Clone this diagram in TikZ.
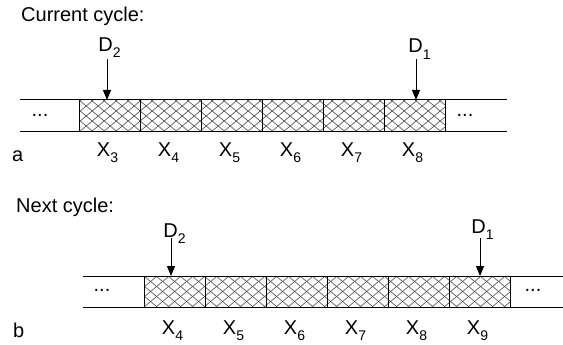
\documentclass[tikz,border=0pt]{standalone}
\usepackage{fontspec}
\setmainfont{Liberation Sans}
\usetikzlibrary{arrows.meta}
\newcommand{\lbl}[2]{#1\raisebox{-6pt}{\fontsize{14}{14}\selectfont #2}}
\begin{document}
\begin{tikzpicture}[x=1pt,y=-1pt,
  cell/.style={draw=none,minimum width=61pt,minimum height=#1,inner sep=0pt,outer sep=0pt},
  cell/.default=32pt,
  txt/.style={font=\fontsize{20}{24}\selectfont,inner sep=0pt},
  head/.style={font=\fontsize{20}{24}\selectfont,inner sep=0pt,anchor=base west},
  arr/.style={-{Triangle[length=10pt,width=8pt]},line width=0.9pt},
  rail/.style={line width=1pt},
  hatchline/.style={line width=0.6pt,black!70}]
\useasboundingbox (0,0) rectangle (563,345);

% ---------- row a ----------
\node[head] (ha) at (21,22) {Current cycle:};
\begin{scope}
  \clip (79,100) rectangle (445,132);
  \foreach \i in {-5,...,32} {
    \draw[hatchline] (79+12*\i,132) -- ++(38.4,-32);
    \draw[hatchline] (79+12*\i,100) -- ++(38.4,32);
  }
\end{scope}
\foreach \k/\n in {0/3,1/4,2/5,3/6,4/7,5/8} {
  \node[cell] (a\n) at (109.5+61*\k,116) {};
  \draw[rail] (a\n.north west) -- (a\n.south west);
  \node[txt,anchor=base] at (109.5+61*\k-2,157) {\lbl{X}{\n}};
}
\draw[rail] (a8.north east) -- (a8.south east);
\draw[rail] (20,100) -- (507,100);
\draw[rail] (20,132) -- (507,132);
\node[txt] at (40,115) {...};
\node[txt] at (465,115) {...};
\node[txt,anchor=base west] (la) at (12,161) {a};
\node[txt,anchor=base] (d2a) at (109.5,52) {\lbl{D}{2}};
\node[txt,anchor=base] (d1a) at (419.5,53) {\lbl{D}{1}};
\draw[arr] ([xshift=-2.5pt,yshift=41pt]a3.north) -- ([xshift=-2.5pt]a3.north);
\draw[arr] ([xshift=1.5pt,yshift=41pt]a8.north) -- ([xshift=1.5pt]a8.north);

% ---------- row b ----------
\node[head] (hb) at (16,212) {Next cycle:};
\begin{scope}
  \clip (144,276) rectangle (510,307);
  \foreach \i in {-5,...,32} {
    \draw[hatchline] (144+12*\i,307) -- ++(37.2,-31);
    \draw[hatchline] (144+12*\i,276) -- ++(37.2,31);
  }
\end{scope}
\foreach \k/\n in {0/4,1/5,2/6,3/7,4/8,5/9} {
  \node[cell=31pt] (b\n) at (174.5+61*\k,291.5) {};
  \draw[rail] (b\n.north west) -- (b\n.south west);
  \node[txt,anchor=base] at (174.5+61*\k-2,334) {\lbl{X}{\n}};
}
\draw[rail] (b9.north east) -- (b9.south east);
\draw[rail] (83,276) -- (563,276);
\draw[rail] (83,307) -- (563,307);
\node[txt] at (102,290) {...};
\node[txt] at (533,290) {...};
\node[txt,anchor=base west] (lb) at (13,337) {b};
\node[txt,anchor=base] (d2b) at (174.5,237) {\lbl{D}{2}};
\node[txt,anchor=base] (d1b) at (482.5,233) {\lbl{D}{1}};
\draw[arr] ([xshift=-3.5pt,yshift=38pt]b4.north) -- ([xshift=-3.5pt]b4.north);
\draw[arr] ([xshift=0.5pt,yshift=38pt]b9.north) -- ([xshift=0.5pt]b9.north);
\end{tikzpicture}
\end{document}
